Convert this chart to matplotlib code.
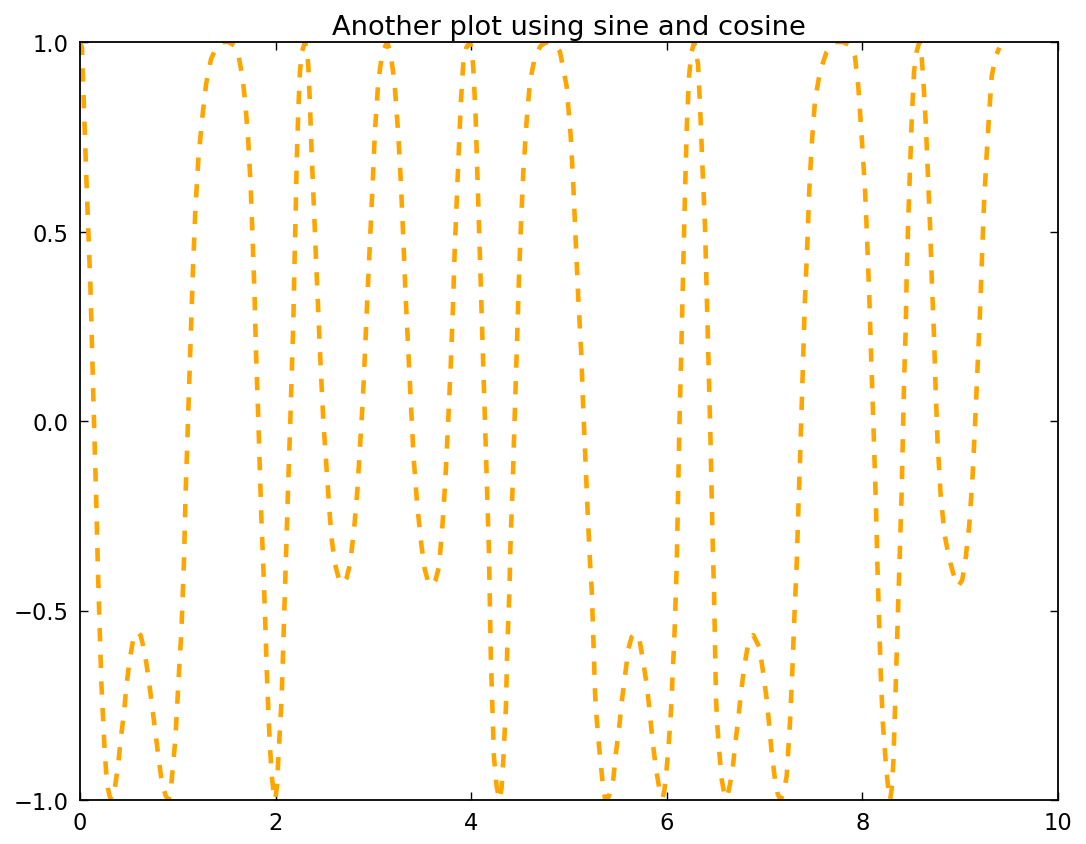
import matplotlib
matplotlib.use("Agg")
import matplotlib.pyplot as plt

# curve (x, y), left to right
curve_x = [
    0.000, 0.020, 0.065, 0.106, 0.143, 0.165, 0.184, 0.201, 0.218, 0.235,
    0.252, 0.270, 0.288, 0.305, 0.325, 0.340, 0.355, 0.389, 0.416, 0.450,
    0.474, 0.508, 0.542, 0.565, 0.590, 0.620, 0.661, 0.702, 0.736, 0.770,
    0.804, 0.830, 0.852, 0.878, 0.905, 0.930, 0.951, 0.975, 1.002, 1.019,
    1.036, 1.050, 1.063, 1.080, 1.104, 1.130, 1.155, 1.180, 1.210, 1.250,
    1.290, 1.340, 1.400, 1.450, 1.520, 1.580, 1.620, 1.660, 1.690, 1.720,
    1.745, 1.765, 1.785, 1.800, 1.820, 1.838, 1.855, 1.875, 1.893, 1.910,
    1.928, 1.945, 1.962, 1.980, 1.997, 2.015, 2.030, 2.062, 2.079, 2.096,
    2.113, 2.130, 2.147, 2.164, 2.181, 2.192, 2.205, 2.215, 2.232, 2.249,
    2.270, 2.300, 2.320, 2.335, 2.352, 2.369, 2.393, 2.413, 2.437, 2.461,
    2.488, 2.522, 2.550, 2.574, 2.608, 2.645, 2.686, 2.725, 2.761, 2.802,
    2.836, 2.863, 2.891, 2.914, 2.938, 2.966, 2.992, 3.016, 3.050, 3.090,
    3.140, 3.175, 3.215, 3.255, 3.282, 3.304, 3.328, 3.355, 3.382, 3.410,
    3.448, 3.490, 3.525, 3.560, 3.597, 3.635, 3.670, 3.702, 3.735, 3.765,
    3.792, 3.813, 3.830, 3.852, 3.873, 3.895, 3.920, 3.950, 3.985, 4.005,
    4.021, 4.045, 4.062, 4.079, 4.096, 4.113, 4.130, 4.147, 4.164, 4.181,
    4.191, 4.201, 4.218, 4.232, 4.259, 4.287, 4.310, 4.328, 4.355, 4.369,
    4.390, 4.403, 4.424, 4.440, 4.456, 4.473, 4.490, 4.511, 4.534, 4.567,
    4.601, 4.652, 4.710, 4.771, 4.850, 4.908, 4.976, 5.017, 5.044, 5.070,
    5.095, 5.125, 5.145, 5.168, 5.192, 5.215, 5.232, 5.249, 5.266, 5.283,
    5.307, 5.334, 5.350, 5.368, 5.385, 5.408, 5.431, 5.453, 5.481, 5.515,
    5.539, 5.573, 5.607, 5.640, 5.690, 5.719, 5.760, 5.801, 5.828, 5.856,
    5.890, 5.930, 5.958, 5.975, 5.992, 6.016, 6.033, 6.050, 6.060, 6.074,
    6.084, 6.091, 6.101, 6.115, 6.130, 6.145, 6.158, 6.172, 6.188, 6.205,
    6.228, 6.250, 6.280, 6.320, 6.345, 6.368, 6.390, 6.405, 6.420, 6.432,
    6.447, 6.458, 6.470, 6.483, 6.493, 6.503, 6.517, 6.537, 6.561, 6.595,
    6.620, 6.645, 6.674, 6.697, 6.731, 6.755, 6.789, 6.834, 6.885, 6.946,
    6.980, 7.021, 7.048, 7.072, 7.106, 7.135, 7.164, 7.200, 7.226, 7.260,
    7.283, 7.304, 7.328, 7.345, 7.362, 7.379, 7.396, 7.413, 7.437, 7.457,
    7.481, 7.515, 7.566, 7.634, 7.720, 7.800, 7.880, 7.924, 7.958, 7.992,
    8.027, 8.050, 8.071, 8.088, 8.105, 8.122, 8.140, 8.153, 8.170, 8.187,
    8.208, 8.238, 8.260, 8.283, 8.300, 8.317, 8.334, 8.351, 8.368, 8.385,
    8.402, 8.414, 8.426, 8.443, 8.453, 8.469, 8.487, 8.504, 8.528, 8.555,
    8.582, 8.605, 8.623, 8.648, 8.670, 8.692, 8.710, 8.732, 8.748, 8.768,
    8.800, 8.840, 8.889, 8.930, 8.980, 9.020, 9.049, 9.093, 9.127, 9.151,
    9.175, 9.202, 9.223, 9.243, 9.270, 9.298, 9.322, 9.360, 9.400,
]
curve_y = [
    1.000, 0.985, 0.640, 0.360, 0.000, -0.200, -0.400, -0.550, -0.690, -0.780,
    -0.870, -0.935, -0.972, -0.992, -1.000, -0.992, -0.970, -0.910, -0.840, -0.770,
    -0.700, -0.630, -0.580, -0.562, -0.556, -0.566, -0.610, -0.680, -0.750, -0.820,
    -0.890, -0.940, -0.968, -0.990, -1.000, -0.970, -0.910, -0.840, -0.710, -0.630,
    -0.560, -0.460, -0.370, -0.190, 0.000, 0.200, 0.400, 0.560, 0.690, 0.800,
    0.890, 0.955, 0.990, 1.000, 1.000, 0.990, 0.965, 0.910, 0.840, 0.740,
    0.620, 0.480, 0.330, 0.180, 0.030, -0.120, -0.260, -0.390, -0.520, -0.660,
    -0.780, -0.870, -0.940, -0.980, -1.000, -0.960, -0.880, -0.730, -0.585, -0.442,
    -0.300, -0.157, -0.027, 0.116, 0.259, 0.402, 0.545, 0.675, 0.818, 0.922,
    0.975, 1.000, 0.980, 0.935, 0.831, 0.701, 0.558, 0.428, 0.285, 0.142,
    0.000, -0.131, -0.235, -0.313, -0.378, -0.415, -0.430, -0.415, -0.378, -0.287,
    -0.183, -0.066, 0.052, 0.181, 0.324, 0.480, 0.623, 0.766, 0.896, 0.970,
    1.000, 0.970, 0.896, 0.753, 0.623, 0.493, 0.337, 0.194, 0.052, -0.092,
    -0.222, -0.326, -0.391, -0.425, -0.435, -0.420, -0.385, -0.290, -0.160, 0.000,
    0.155, 0.298, 0.441, 0.584, 0.714, 0.844, 0.948, 0.985, 1.000, 0.980,
    0.935, 0.805, 0.662, 0.519, 0.376, 0.233, 0.090, -0.052, -0.195, -0.339,
    -0.481, -0.624, -0.767, -0.884, -0.962, -1.000, -0.970, -0.897, -0.754, -0.598,
    -0.455, -0.313, -0.170, -0.027, 0.103, 0.246, 0.389, 0.532, 0.662, 0.792,
    0.896, 0.961, 0.990, 1.000, 0.995, 0.974, 0.883, 0.753, 0.623, 0.467,
    0.324, 0.181, 0.038, -0.105, -0.248, -0.373, -0.443, -0.575, -0.716, -0.786,
    -0.857, -0.927, -0.970, -0.995, -1.000, -0.990, -0.968, -0.945, -0.874, -0.804,
    -0.742, -0.672, -0.602, -0.570, -0.560, -0.575, -0.637, -0.707, -0.777, -0.848,
    -0.918, -0.980, -0.995, -0.975, -0.936, -0.865, -0.804, -0.733, -0.663, -0.593,
    -0.522, -0.461, -0.382, -0.200, 0.000, 0.150, 0.300, 0.450, 0.620, 0.780,
    0.910, 0.970, 1.000, 0.940, 0.800, 0.650, 0.520, 0.370, 0.230, 0.090,
    -0.050, -0.180, -0.330, -0.450, -0.593, -0.733, -0.804, -0.874, -0.945, -0.995,
    -0.990, -0.960, -0.918, -0.857, -0.786, -0.725, -0.654, -0.584, -0.565, -0.597,
    -0.654, -0.733, -0.804, -0.874, -0.945, -0.985, -1.000, -0.975, -0.936, -0.793,
    -0.663, -0.520, -0.378, -0.235, -0.105, 0.038, 0.181, 0.324, 0.467, 0.610,
    0.727, 0.844, 0.922, 0.974, 1.000, 1.000, 0.990, 0.961, 0.883, 0.753,
    0.610, 0.467, 0.324, 0.181, 0.052, -0.092, -0.235, -0.378, -0.520, -0.663,
    -0.793, -0.897, -0.960, -1.000, -0.970, -0.897, -0.754, -0.611, -0.468, -0.326,
    -0.183, -0.040, 0.103, 0.246, 0.389, 0.532, 0.662, 0.792, 0.922, 0.975,
    1.000, 0.965, 0.900, 0.785, 0.649, 0.513, 0.370, 0.226, 0.090, -0.052,
    -0.195, -0.300, -0.365, -0.403, -0.436, -0.420, -0.378, -0.274, -0.144, -0.014,
    0.129, 0.285, 0.428, 0.571, 0.701, 0.818, 0.909, 0.960, 0.985,
]

x_ticks = [0, 2, 4, 6, 8, 10]
y_ticks = [-1.0, -0.5, 0.0, 0.5, 1.0]

plt.rcParams['lines.scale_dashes'] = False

fig = plt.figure(figsize=(10.86, 8.45), dpi=100)
ax = fig.add_axes([80 / 1086, 1 - 801 / 845, 978 / 1086, 758 / 845])

ax.plot(curve_x, curve_y, color='orange', linewidth=3.3,
        linestyle='--', dashes=(9.6, 9.6))

ax.set_xlim(0, 10)
ax.set_ylim(-1, 1)
ax.set_xticks(x_ticks)
ax.set_yticks(y_ticks)
ax.set_xticklabels([str(t) for t in x_ticks])
ax.set_yticklabels([f"{t:.1f}".replace('-', '\u2212') for t in y_ticks])
ax.tick_params(direction='in', top=True, right=True, length=5.8, width=1,
               pad=8, labelsize=16.3)
for s in ax.spines.values():
    s.set_linewidth(1.3)

ax.set_title("Another plot using sine and cosine", fontsize=19.6, pad=5.5)

fig.savefig("out.png", dpi=100)
